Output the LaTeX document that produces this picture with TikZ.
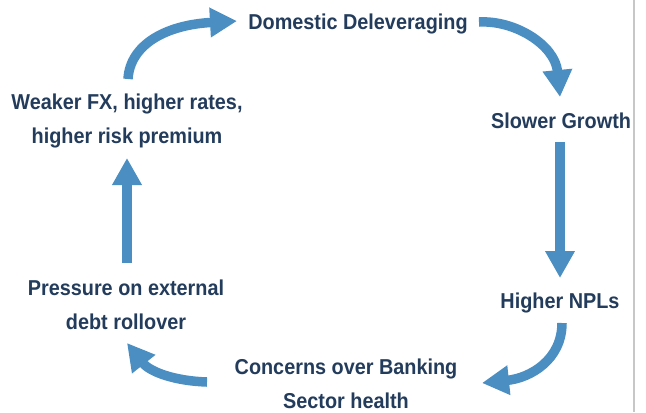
\documentclass[tikz,border=0pt]{standalone}
\usepackage{fontspec}
\setmainfont[FakeStretch=0.92]{Liberation Sans}
\usetikzlibrary{arrows.meta,calc}
\definecolor{loopblue}{RGB}{74,142,194}
\definecolor{loopnavy}{RGB}{35,60,92}
\tikzset{
  lbl/.style={inner sep=0pt, align=center, text=loopnavy,
    font=\fontsize{18.4}{29}\selectfont\bfseries},
  flow/.style={draw=loopblue, line width=0.285cm,
    -{Triangle[length=0.81cm,width=0.84cm]}}
}

\begin{document}
\begin{tikzpicture}[x=0.03cm,y=-0.03cm]
			%%%%% START %%%%%
			\useasboundingbox (0,0) rectangle (646,412);
			
			\draw[line width=0.075cm, color=black!22] (634,0) -- (634,412);
			
			\node[lbl] (dom)  at (358,24)  {Domestic Deleveraging};
			\node[lbl] (slow) at (561,121) {Slower Growth};
			\node[lbl] (npl)  at (560,303) {Higher NPLs};
			\node[lbl] (conc) at (346,384) {Concerns over Banking\\Sector health};
			\node[lbl] (pres) at (126,305) {Pressure on external\\debt rollover};
			\node[lbl] (weak) at (127,121) {Weaker FX, higher rates,\\higher risk premium};
			
			\draw[flow] ($(weak)+(1,-42)$) .. controls (130,45) and (165,25) .. ($(dom)+(-121,-3)$);
			\draw[flow] ($(dom)+(121,-2)$) .. controls (515,20) and (555,45) .. ($(slow)+(-1,-24)$);
			\draw[flow] ($(slow)+(-1,21)$) -- ($(npl)+(0,-25)$);
			\draw[flow] ($(npl)+(2,20)$) .. controls (562,360) and (530,378) .. ($(conc)+(136,-1)$);
			\draw[flow] ($(conc)+(-139,-2)$) .. controls (175,381) and (150,372) .. ($(pres)+(1,38)$);
			\draw[flow] ($(pres)+(1,-42)$) -- ($(weak)+(0,37)$);
			
			%%%%% END %%%%%
\end{tikzpicture}
\end{document}
